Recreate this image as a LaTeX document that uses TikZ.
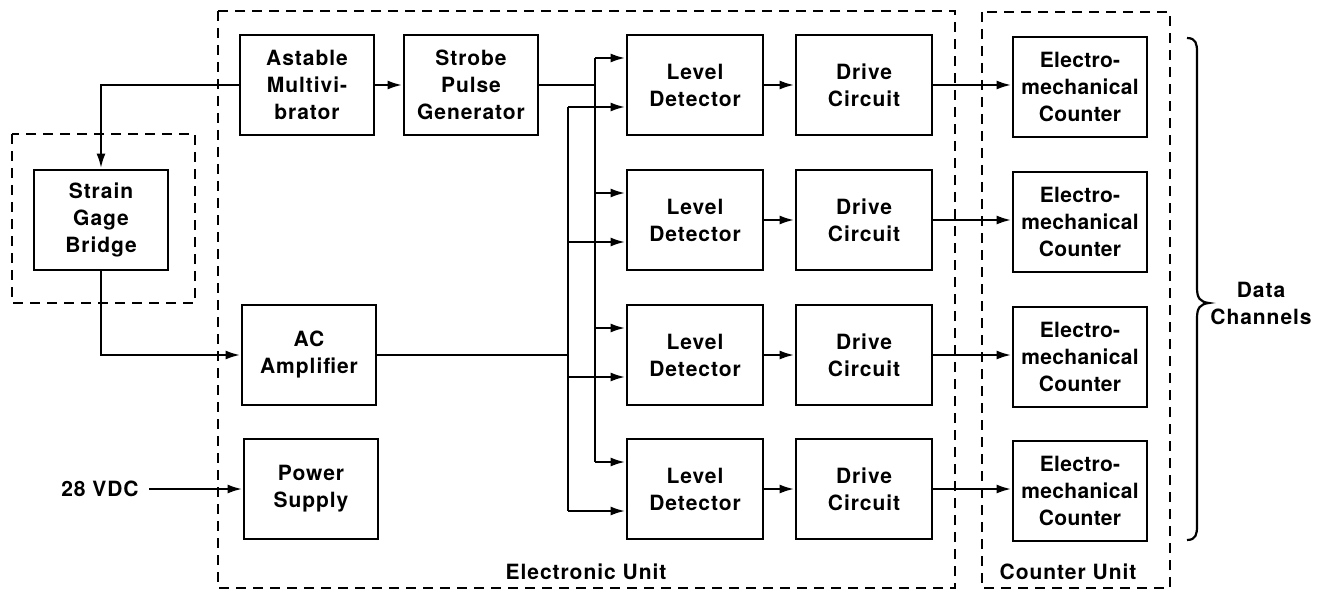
\documentclass[tikz,border=0pt]{standalone}
\usepackage{fontspec}
\newfontfamily\labfont[LetterSpace=4.5]{TeX Gyre Heros}
\newfontfamily\narfont[LetterSpace=1.5]{TeX Gyre Heros}
\usetikzlibrary{arrows.meta,calc}
\begin{document}
\begin{tikzpicture}[x=0.5pt,y=-0.5pt,
  blk/.style={draw,line width=1.4pt,minimum width=67pt,minimum height=50pt,inner sep=0pt,align=center,
    font=\labfont\bfseries\fontsize{10.5}{13.5}\selectfont},
  lbl/.style={inner sep=0pt,align=center,font=\labfont\bfseries\fontsize{10.5}{13.5}\selectfont},
  wire/.style={line width=1.3pt},
  arr/.style={wire,-{Latex[length=7.5pt,width=4.5pt]}},
  dbox/.style={line width=1.1pt,dash pattern=on 5pt off 3.5pt}]
\useasboundingbox (0,0) rectangle (1320,593);
% dashed enclosures
\draw[dbox] (12,134) rectangle (195,303);
\draw[dbox] (218,11) rectangle (955,588);
\draw[dbox] (982,12) rectangle (1170,588);
\node[lbl] (eu) at (586,572) {Electronic Unit};
\node[lbl] (cu) at (1068,572) {Counter Unit};
% blocks
\node[blk] (sg) at (101,220) {Strain\\Gage\\Bridge};
\node[blk] (am) at (307,85) {Astable\\Multivi-\\brator};
\node[blk] (sp) at (471,85) {Strobe\\Pulse\\Generator};
\node[blk] (ac) at (309,355) {AC\\Amplifier};
\node[blk] (ps) at (311,489) {Power\\Supply};
\foreach \i/\y in {1/85,2/220,3/355,4/489}{
  \node[blk,minimum width=68pt] (ld\i) at (695,\y) {Level\\Detector};
  \node[blk,minimum width=68pt] (dc\i) at (864,\y) {Drive\\Circuit};
  \node[blk,font=\narfont\bfseries\fontsize{10.5}{13.5}\selectfont] (ec\i) at (1080,\y+2) {Electro-\\mechanical\\Counter};
  \coordinate (ua\i) at ($(ld\i.west)+(0,-27)$);
  \coordinate (ub\i) at ($(ld\i.west)+(0,22)$);
  \draw[arr] (ld\i.east) -- (dc\i.west);
  \draw[arr] (dc\i.east) -- (dc\i.east -| ec\i.west);
}
\node[lbl,inner xsep=5pt] (vdc) at (100,489) {28 VDC};
\coordinate (sbx) at (595,0);
\coordinate (abx) at (568,0);
% connections
\draw[arr] (am.west) -| (sg.north);
\draw[arr] (sg.south) |- (ac.west);
\draw[arr] (am.east) -- (sp.west);
\draw[arr] (vdc.east) -- (ps.west);
\draw[wire] (sp.east) -- (sp.east -| sbx);
\draw[wire] (ua1 -| sbx) -- (ua4 -| sbx);
\draw[wire] (ac.east) -- (ac.east -| abx);
\draw[wire] (ub1 -| abx) -- (ub4 -| abx);
\foreach \i in {1,2,3,4}{
  \draw[arr] (ua\i -| sbx) -- (ua\i);
  \draw[arr] (ub\i -| abx) -- (ub\i);
}
% brace
\draw[line width=1.1pt] (1187,38) .. controls (1196,38) and (1197,44) .. (1197,52)
  -- (1197,288) .. controls (1197,298) and (1200,302) .. (1209,303)
  .. controls (1200,304) and (1197,308) .. (1197,318)
  -- (1197,526) .. controls (1197,534) and (1196,540) .. (1187,540);
\node[lbl] (dch) at (1261,303) {Data\\Channels};
\end{tikzpicture}
\end{document}
